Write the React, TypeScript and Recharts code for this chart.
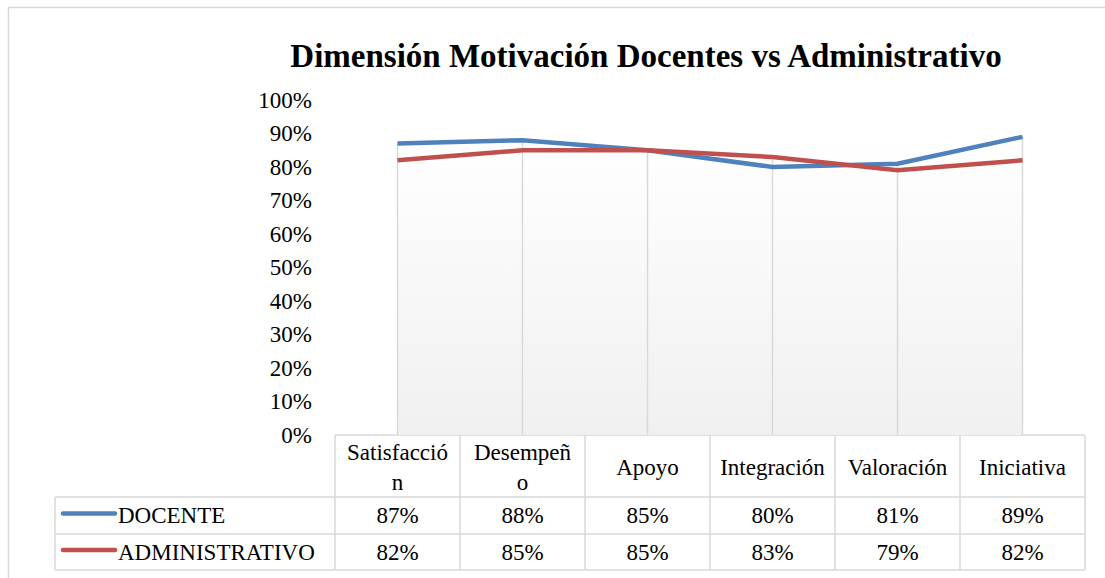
import { LineChart, Line, XAxis, YAxis, ReferenceLine, ReferenceArea, Customized } from "recharts";

const categories = ["Satisfacción", "Desempeño", "Apoyo", "Integración", "Valoración", "Iniciativa"];
// how Excel wrapped the header cells
const headerLines = [["Satisfacció", "n"], ["Desempeñ", "o"], ["Apoyo"], ["Integración"], ["Valoración"], ["Iniciativa"]];
const docente = [87, 88, 85, 80, 81, 89];
const administrativo = [82, 85, 85, 83, 79, 82];
const yTicks = [0, 10, 20, 30, 40, 50, 60, 70, 80, 90, 100];

const seriesInfo = [
  { key: "docente", name: "DOCENTE", color: "#4F81BD", values: docente },
  { key: "administrativo", name: "ADMINISTRATIVO", color: "#C0504D", values: administrativo },
];

const data = categories.map((c, i) => ({ category: c, docente: docente[i], administrativo: administrativo[i] }));

const FONT = "Liberation Serif, serif";
const txt = { fontFamily: FONT, fontSize: 23 };
const W = 1105;
const H = 578;
const PLOT_L = 335;
const PLOT_R = 1085;
const COL_W = (PLOT_R - PLOT_L) / categories.length;
const HEAD_TOP = 435;
const HEAD_BOT = 497;
const ROW_BOTS = [534, 570];
const LEG_L = 55;
const GRID = "#d9d9d9";

function YTick(props: any) {
  const { y, payload } = props;
  return (
    <text x={312} y={y} textAnchor="end" dominantBaseline="central" style={txt} fill="#000">
      {payload.value}%
    </text>
  );
}

function TableLayer() {
  const rowTops = [HEAD_BOT, ROW_BOTS[0]];
  return (
    <g>
      <rect x={8.5} y={7.5} width={W} height={H} fill="none" stroke={GRID} strokeWidth={1.5} />
      <text x={646} y={67} textAnchor="middle" style={{ fontFamily: FONT, fontSize: 33, fontWeight: "bold" }} fill="#000">
        Dimensión Motivación Docentes vs Administrativo
      </text>
      <line x1={PLOT_L} y1={HEAD_TOP} x2={PLOT_R} y2={HEAD_TOP} stroke={GRID} strokeWidth={1.5} />
      <line x1={LEG_L} y1={HEAD_BOT} x2={PLOT_R} y2={HEAD_BOT} stroke={GRID} strokeWidth={1.5} />
      {ROW_BOTS.map((y) => (
        <line key={y} x1={LEG_L} y1={y} x2={PLOT_R} y2={y} stroke={GRID} strokeWidth={1.5} />
      ))}
      {categories.map((c, i) => (
        <line key={c} x1={PLOT_L + i * COL_W} y1={HEAD_TOP} x2={PLOT_L + i * COL_W} y2={ROW_BOTS[1]} stroke={GRID} strokeWidth={1.5} />
      ))}
      <line x1={PLOT_R} y1={HEAD_TOP} x2={PLOT_R} y2={ROW_BOTS[1]} stroke={GRID} strokeWidth={1.5} />
      <line x1={LEG_L} y1={HEAD_BOT} x2={LEG_L} y2={ROW_BOTS[1]} stroke={GRID} strokeWidth={1.5} />
      {headerLines.map((lines, i) => {
        const cx = PLOT_L + (i + 0.5) * COL_W;
        const mid = (HEAD_TOP + HEAD_BOT) / 2 + 1;
        return lines.map((t, j) => (
          <text
            key={t}
            x={cx}
            y={mid + (j - (lines.length - 1) / 2) * 30}
            textAnchor="middle"
            dominantBaseline="central"
            style={txt}
            fill="#000"
          >
            {t}
          </text>
        ));
      })}
      {seriesInfo.map((s, r) => {
        const cy = (rowTops[r] + ROW_BOTS[r]) / 2;
        return (
          <g key={s.key}>
            <line x1={63} y1={cy - 2} x2={115} y2={cy - 2} stroke={s.color} strokeWidth={4.5} strokeLinecap="round" />
            <text x={118} y={cy} dominantBaseline="central" style={txt} fill="#000">
              {s.name}
            </text>
            {s.values.map((v, i) => (
              <text
                key={i}
                x={PLOT_L + (i + 0.5) * COL_W}
                y={cy}
                textAnchor="middle"
                dominantBaseline="central"
                style={txt}
                fill="#000"
              >
                {v}%
              </text>
            ))}
          </g>
        );
      })}
    </g>
  );
}

export default function App() {
  return (
    <div style={{ position: "absolute", left: 0, top: 0, width: W, height: H, background: "#fff" }}>
      <LineChart width={W} height={H} data={data} margin={{ top: 100, right: W - PLOT_R, bottom: H - HEAD_TOP, left: 0 }}>
        <defs>
          <linearGradient id="plotBg" x1="0" y1="0" x2="0" y2="1">
            <stop offset="0%" stopColor="#ffffff" />
            <stop offset="100%" stopColor="#f0f0f0" />
          </linearGradient>
        </defs>
        <XAxis dataKey="category" hide padding={{ left: COL_W / 2, right: COL_W / 2 }} />
        <YAxis width={PLOT_L} domain={[0, 100]} ticks={yTicks} axisLine={false} tickLine={false} tick={<YTick />} interval={0} />
        <ReferenceArea y1={0} y2={88} fill="url(#plotBg)" fillOpacity={1} stroke="none" ifOverflow="visible" />
        {categories.map((c, i) => (
          <ReferenceLine
            key={c}
            segment={[
              { x: c, y: 0 },
              { x: c, y: Math.max(docente[i], administrativo[i]) },
            ]}
            stroke={GRID}
            strokeWidth={1.5}
          />
        ))}
        {seriesInfo.map((s) => (
          <Line
            key={s.key}
            dataKey={s.key}
            name={s.name}
            type="linear"
            stroke={s.color}
            strokeWidth={4.5}
            dot={false}
            isAnimationActive={false}
          />
        ))}
        <Customized component={<TableLayer />} />
      </LineChart>
    </div>
  );
}
